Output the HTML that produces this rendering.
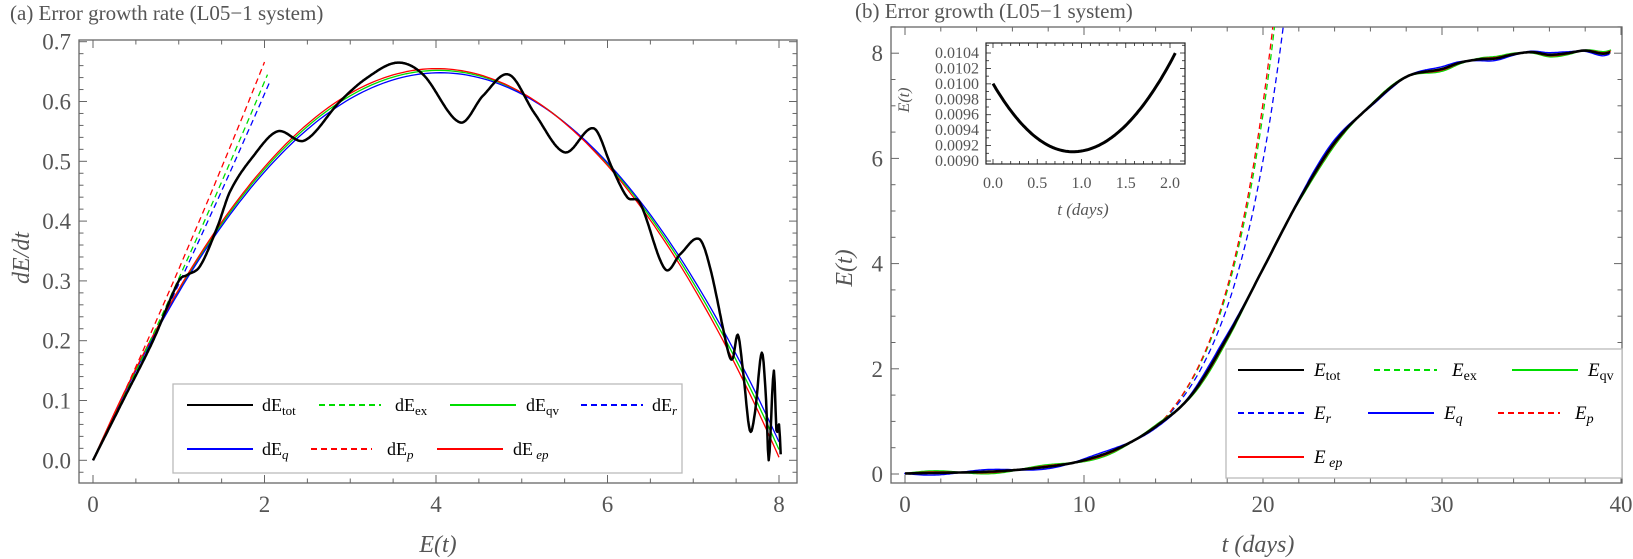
<!DOCTYPE html>
<html><head><meta charset="utf-8"><style>
html,body{margin:0;padding:0;background:#fff;}
svg{display:block;}
svg text{font-family:'Liberation Serif','Times New Roman','DejaVu Serif',serif !important;}
</style></head><body>
<svg id="s" width="1633" height="559" viewBox="0 0 1633 559" xmlns="http://www.w3.org/2000/svg">
<rect width="1633" height="559" fill="#fff"/>
<g id="g"></g>
</svg>
<script>
const NS="http://www.w3.org/2000/svg";const G=document.getElementById('g');
function el(t,a,txt){const e=document.createElementNS(NS,t);if(t=='text')e.setAttribute('style',"font-family:'Liberation Serif','Times New Roman',serif");for(const k in a)e.setAttribute(k,a[k]);if(txt!==undefined)e.innerHTML=txt;G.appendChild(e);return e;}
function path(pts,st){return el('path',Object.assign({d:'M'+pts.map(p=>p[0].toFixed(1)+','+p[1].toFixed(1)).join('L'),fill:'none','stroke-linejoin':'round','stroke-linecap':'butt'},st));}
function interp(P,x){for(let i=0;i<P.length-1;i++){if(x>=P[i][0]&&x<=P[i+1][0]){const p0=P[Math.max(i-1,0)],p1=P[i],p2=P[i+1],p3=P[Math.min(i+2,P.length-1)];const t=(x-p1[0])/(p2[0]-p1[0]);const m1=(p2[1]-p0[1])/(p2[0]-p0[0])*(p2[0]-p1[0]);const m2=(p3[1]-p1[1])/(p3[0]-p1[0])*(p2[0]-p1[0]);const t2=t*t,t3=t2*t;return (2*t3-3*t2+1)*p1[1]+(t3-2*t2+t)*m1+(-2*t3+3*t2)*p2[1]+(t3-t2)*m2;}}return P[P.length-1][1];}
const GR='#666',TX='#555';
const L={x0:79,x1:797,y0:40,y1:483};
const lx=E=>93+E*85.75, ly=v=>460.3-v*598;
el('defs',{},'<clipPath id="cl"><rect x="79" y="40" width="718" height="443"/></clipPath><clipPath id="cr"><rect x="891" y="27" width="731" height="456"/></clipPath>');
el('rect',{x:L.x0,y:L.y0,width:L.x1-L.x0,height:L.y1-L.y0,fill:'none',stroke:GR,'stroke-width':1.3});
for(let E=0;E<=8.001;E+=0.5){const x=lx(E);const M=Math.abs(E%2)<1e-6;const l=M?8:4.5;
 el('line',{x1:x,y1:L.y1,x2:x,y2:L.y1-l,stroke:GR,'stroke-width':1});el('line',{x1:x,y1:L.y0,x2:x,y2:L.y0+l,stroke:GR,'stroke-width':1});
 if(M)el('text',{x:x,y:512,'text-anchor':'middle','font-size':23,fill:TX},E.toFixed(0));}
for(let i=0;i<=36;i++){const v=i*0.02-0.02;const y=ly(v);if(y>L.y1||y<L.y0)continue;const M=(i-1)%5==0;const l=M?8:4.5;
 el('line',{x1:L.x0,y1:y,x2:L.x0+l,y2:y,stroke:GR,'stroke-width':1});el('line',{x1:L.x1,y1:y,x2:L.x1-l,y2:y,stroke:GR,'stroke-width':1});
 if(M)el('text',{x:71,y:y+8,'text-anchor':'end','font-size':23,fill:TX},v.toFixed(1));}
el('text',{x:10,y:20,'font-size':21,fill:TX},'(a) Error growth rate (L05&#8722;1 system)');
el('text',{x:438,y:552,'text-anchor':'middle','font-size':24,fill:TX,'font-style':'italic'},'E(t)');
el('text',{x:0,y:0,transform:'translate(29,258) rotate(-90)','text-anchor':'middle','font-size':24,fill:TX,'font-style':'italic'},'dE/dt');
const gc=G.appendChild(document.createElementNS(NS,'g'));gc.setAttribute('clip-path','url(#cl)');
function P(pts,st){const p=path(pts,st);gc.appendChild(p);}
function sm(E,s){return 0.643*(1-Math.pow((E-4-s)/(4+s),2))+0.018*E/8;}
[['#00dd00',0.0,0],['#0000ff',0.02,-0.004],['#ff0000',-0.02,0.003]].forEach(([c,s,o])=>{const pts=[];for(let E=0;E<=8.001;E+=0.05){let v=sm(E,s)+o*Math.sin(E/8*Math.PI);pts.push([lx(E),ly(v)]);}P(pts,{stroke:c,'stroke-width':1.3});});
[['#ff0000',0.666,0],['#00dd00',0.645,3],['#0000ff',0.632,5]].forEach(([c,v,o])=>{const pts=[];for(let E=0;E<=2.001;E+=0.05){pts.push([lx(E)+o*E/2,ly(v*E/2*(0.92+0.08*E/2))]);}P(pts,{stroke:c,'stroke-width':1.3,'stroke-dasharray':'6,4'});});
const B=[[0,0],[0.35,0.1],[0.7,0.2],[1.0,0.3],[1.1,0.31],[1.25,0.325],[1.45,0.39],[1.6,0.45],[1.85,0.505],[2.15,0.55],[2.47,0.535],[2.88,0.6],[3.2,0.64],[3.55,0.665],[3.85,0.645],[4.28,0.565],[4.55,0.61],[4.85,0.645],[5.15,0.58],[5.5,0.515],[5.84,0.555],[6.05,0.49],[6.23,0.44],[6.38,0.43],[6.67,0.32],[6.85,0.345],[7.07,0.37],[7.2,0.32],[7.41,0.18],[7.46,0.17],[7.52,0.21],[7.58,0.15],[7.66,0.05],[7.72,0.08],[7.8,0.18],[7.85,0.1],[7.88,0.0],[7.94,0.15],[7.97,0.05],[8.0,0.06],[8.02,0.01]];
{const pts=[];for(let E=0;E<=8.02;E+=0.01)pts.push([lx(E),ly(interp(B,E))]);P(pts,{stroke:'#000','stroke-width':2.5});}
el('rect',{x:173,y:384,width:509,height:89,fill:'#fff',stroke:'#bbb','stroke-width':1.3});
function leg(x1,x2,y,c,d,tx,lab,sub,it){el('line',{x1:x1,y1:y,x2:x2,y2:y,stroke:c,'stroke-width':2,'stroke-dasharray':d?'6,4':'none'});
 el('text',{x:tx,y:y+6,'font-size':18,fill:'#000'},lab+'<tspan font-size="13" dy="4"'+(it?' font-style="italic"':'')+'>'+sub+'</tspan>');}
leg(187,253,405,'#000',0,262,'dE','tot');leg(319,381,405,'#00dd00',1,395,'dE','ex');leg(450,516,405,'#00dd00',0,526,'dE','qv');leg(581,643,405,'#0000ff',1,652,'dE','r',1);
leg(187,253,449,'#0000ff',0,262,'dE','q',1);leg(311,372,449,'#ff0000',1,387,'dE','p',1);leg(437,503,449,'#ff0000',0,513,'dE',' ep',1);
const R={x0:891,x1:1622,y0:27,y1:483};
const rx=t=>905+t*17.9, ry=E=>474-E*52.6;
el('rect',{x:R.x0,y:R.y0,width:R.x1-R.x0,height:R.y1-R.y0,fill:'none',stroke:GR,'stroke-width':1.3});
for(let t=0;t<=40;t+=2){const x=rx(t);const M=t%10==0;const l=M?8:4.5;
 el('line',{x1:x,y1:R.y1,x2:x,y2:R.y1-l,stroke:GR,'stroke-width':1});el('line',{x1:x,y1:R.y0,x2:x,y2:R.y0+l,stroke:GR,'stroke-width':1});
 if(M)el('text',{x:x,y:512,'text-anchor':'middle','font-size':23,fill:TX},t);}
for(let E=0;E<=8.5;E+=0.5){const y=ry(E);const M=E%2==0;const l=M?8:4.5;
 el('line',{x1:R.x0,y1:y,x2:R.x0+l,y2:y,stroke:GR,'stroke-width':1});el('line',{x1:R.x1,y1:y,x2:R.x1-l,y2:y,stroke:GR,'stroke-width':1});
 if(M)el('text',{x:883,y:y+8,'text-anchor':'end','font-size':23,fill:TX},E);}
el('text',{x:855,y:18,'font-size':21,fill:TX},'(b) Error growth (L05&#8722;1 system)');
el('text',{x:1258,y:552,'text-anchor':'middle','font-size':24,fill:TX,'font-style':'italic'},'t (days)');
el('text',{x:0,y:0,transform:'translate(852,268) rotate(-90)','text-anchor':'middle','font-size':24,fill:TX,'font-style':'italic'},'E(t)');
const gr=G.appendChild(document.createElementNS(NS,'g'));gr.setAttribute('clip-path','url(#cr)');
function PR(pts,st){gr.appendChild(path(pts,st));}
const S=[[0,0.01],[5,0.05],[8,0.14],[10,0.26],[12,0.5],[14,0.9],[16,1.5],[18,2.6],[20,3.9],[22,5.2],[24,6.3],[26,7.0],[28,7.55],[30,7.7],[31,7.82],[32,7.88],[33,7.9],[34,7.98],[35,8.02],[36,7.97],[37,8.0],[38,8.05],[39,7.99],[39.5,8.03]];
function dash(g){return t=>{const s=interp(S,t);if(t<13)return s;const e=interp(S,14)*Math.exp(g*(t-14));const w=Math.min(1,(t-13)/2);return s*(1-w)+Math.max(e,s)*w;};}
[['#0000ff',0.315],['#00dd00',0.338],['#ff0000',0.343]].forEach(([c,g])=>{const f=dash(g);const pts=[];for(let t=0;t<=23;t+=0.1)pts.push([rx(t),ry(f(t))]);PR(pts,{stroke:c,'stroke-width':1.3,'stroke-dasharray':'6,4'});});
[['#00dd00',0.04,1.4],['#0000ff',-0.04,1.4],['#ff0000',0.02,1.4]].forEach(([c,o,w])=>{const pts=[];for(let t=0;t<=39.5;t+=0.1)pts.push([rx(t)+o*20,ry(interp(S,t)+o*Math.sin(t))]);PR(pts,{stroke:c,'stroke-width':w});});
{const pts=[];for(let t=0;t<=39.5;t+=0.1)pts.push([rx(t),ry(interp(S,t))]);PR(pts,{stroke:'#000','stroke-width':2.6});}
el('rect',{x:1226,y:349,width:396,height:129,fill:'#fff',stroke:'#bbb','stroke-width':1.3});
function leg2(x1,x2,y,c,d,tx,sub,it){el('line',{x1:x1,y1:y,x2:x2,y2:y,stroke:c,'stroke-width':2,'stroke-dasharray':d?'6,4':'none'});
 el('text',{x:tx,y:y+6,'font-size':19,fill:'#000','font-style':'italic'},'E<tspan font-size="14" dy="4"'+(it?'':' font-style="normal"')+'>'+sub+'</tspan>');}
leg2(1238,1304,370,'#000',0,1314,'tot');leg2(1374,1437,370,'#00dd00',1,1452,'ex');leg2(1512,1578,370,'#00dd00',0,1588,'qv');
leg2(1238,1304,413,'#0000ff',1,1314,'r',1);leg2(1368,1434,413,'#0000ff',0,1444,'q',1);leg2(1498,1560,413,'#ff0000',1,1575,'p',1);
leg2(1238,1304,457,'#ff0000',0,1314,' ep',1);
const I={x0:986,x1:1185,y0:43,y1:164};
const ix=t=>993+t*88.5, iy=v=>53+(0.0104-v)/0.0002*15.43;
el('rect',{x:I.x0,y:I.y0,width:I.x1-I.x0,height:I.y1-I.y0,fill:'#fff',stroke:'#222','stroke-width':1.2});
for(let t=0;t<=2.05;t+=0.1){const x=ix(t);const M=Math.abs((t*2)-Math.round(t*2))<1e-6;const l=M?5:3;
 el('line',{x1:x,y1:I.y1,x2:x,y2:I.y1-l,stroke:'#222','stroke-width':0.8});el('line',{x1:x,y1:I.y0,x2:x,y2:I.y0+l,stroke:'#222','stroke-width':0.8});
 if(M)el('text',{x:x,y:188,'text-anchor':'middle','font-size':16,fill:TX},t.toFixed(1));}
for(let i=0;i<=7;i++){const v=0.0090+i*0.0002;const y=iy(v);
 el('line',{x1:I.x0,y1:y,x2:I.x0+5,y2:y,stroke:'#222','stroke-width':0.8});el('line',{x1:I.x1,y1:y,x2:I.x1-5,y2:y,stroke:'#222','stroke-width':0.8});
 el('text',{x:979,y:y+5,'text-anchor':'end','font-size':16,fill:TX},v.toFixed(4));}
for(let i=-1;i<8;i++){const y=iy(0.0090+i*0.0002+0.0001);if(y<I.y0||y>I.y1)continue;el('line',{x1:I.x0,y1:y,x2:I.x0+3,y2:y,stroke:'#222','stroke-width':0.8});el('line',{x1:I.x1,y1:y,x2:I.x1-3,y2:y,stroke:'#222','stroke-width':0.8});}
el('text',{x:1083,y:215,'text-anchor':'middle','font-size':17,fill:TX,'font-style':'italic'},'t (days)');
el('text',{x:0,y:0,transform:'translate(909,100) rotate(-90)','text-anchor':'middle','font-size':16,fill:TX,'font-style':'italic'},'E(t)');
{const pts=[];for(let t=0;t<=2.07;t+=0.02){const a=t<0.9?0.00109:0.00095;pts.push([ix(t),iy(0.00912+a*(t-0.9)*(t-0.9))]);}path(pts,{stroke:'#000','stroke-width':3});}
</script>
</body></html>
